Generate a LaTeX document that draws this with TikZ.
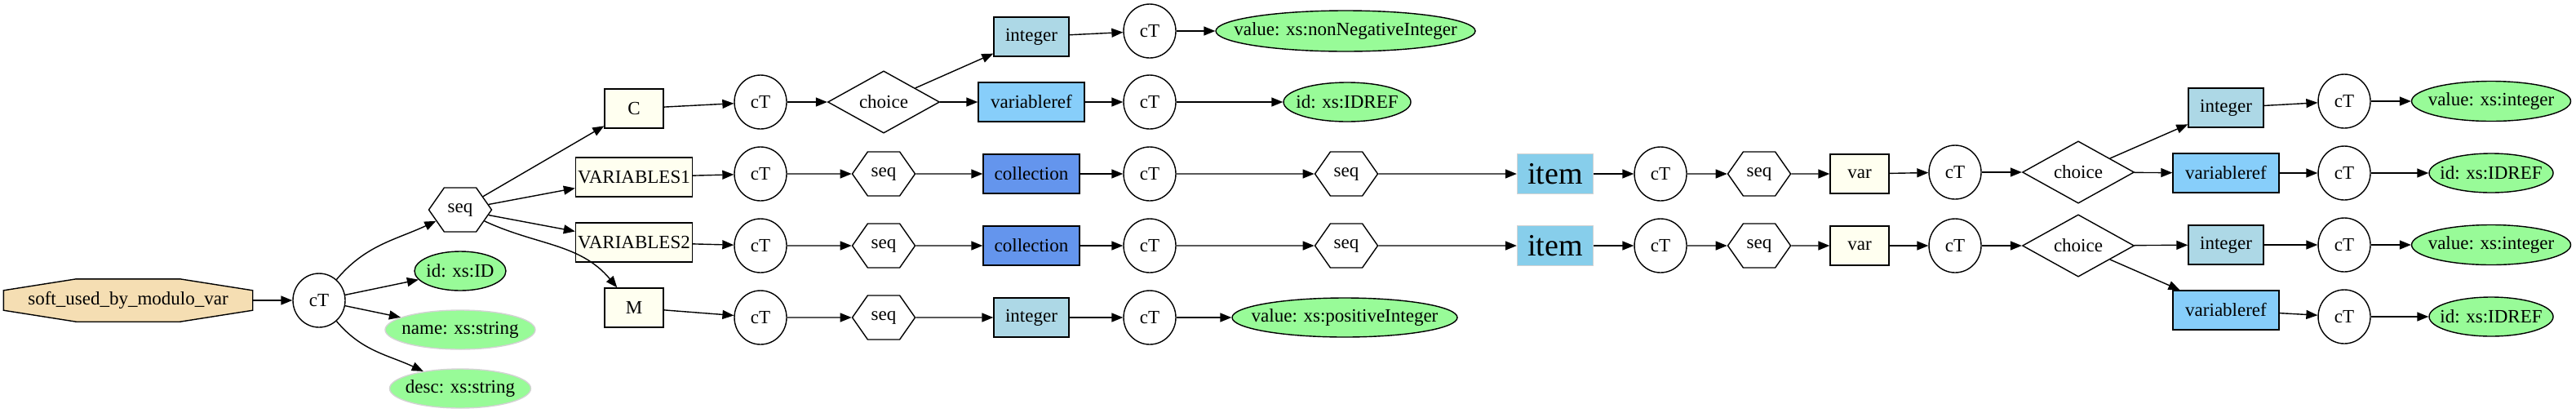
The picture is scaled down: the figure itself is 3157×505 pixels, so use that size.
\documentclass[tikz,border=0pt]{standalone}
\usepackage{fontspec}
\setmainfont{Liberation Serif}
\usetikzlibrary{shapes.geometric,shapes.symbols,arrows.meta,backgrounds}
\definecolor{wheat}{HTML}{F5DEB3}
\definecolor{ivoryc}{HTML}{FFFFF0}
\definecolor{lblue}{HTML}{ADD8E6}
\definecolor{lsky}{HTML}{87CEFA}
\definecolor{cfblue}{HTML}{6495ED}
\definecolor{skyc}{HTML}{87CEEB}
\definecolor{pgreen}{HTML}{98FB98}
\definecolor{lgrey}{HTML}{D3D3D3}
\newcommand{\zb}[1]{\makebox[0pt]{#1}}
\begin{document}
\begin{tikzpicture}[x=0.5pt,y=-0.5pt,
  every node/.style={font=\fontsize{11.5}{13}\selectfont, inner sep=0pt, line width=0.7pt},
  ct/.style={ellipse,draw,minimum width=32pt,minimum height=33pt},
  seqn/.style={signal,signal to=east and west,signal pointer angle=110,draw,minimum width=38.5pt,minimum height=27pt},
  chc/.style={diamond,draw,minimum width=68.5pt,minimum height=33.5pt},
  boxn/.style={rectangle,draw,minimum height=24pt},
  ivbox/.style={boxn,fill=ivoryc},
  intbox/.style={boxn,fill=lblue,minimum width=46pt},
  vrbox/.style={boxn,fill=lsky,minimum width=65pt},
  colbox/.style={boxn,fill=cfblue,minimum width=59pt},
  itembox/.style={rectangle,draw=lgrey,fill=skyc,minimum width=46.5pt,minimum height=24.5pt,font=\fontsize{19}{21}\selectfont},
  attr/.style={ellipse,draw,fill=pgreen,minimum height=24pt},
  attrg/.style={ellipse,draw=lgrey,fill=pgreen,minimum height=24pt},
  edge/.style={-{Triangle[length=7pt,width=5.5pt]},line width=0.7pt}
]
\useasboundingbox (0,0) rectangle (3157,505);

% left part
\node[rectangle,minimum width=152pt,minimum height=25.5pt] (root) at (157,368) {soft\_used\_by\_modulo\_var};
\begin{scope}[on background layer]
\draw[line width=0.7pt,fill=wheat]
  ([xshift=44.5pt]root.north west) -- ([xshift=-44.5pt]root.north east) --
  ([yshift=-7pt]root.north east) -- ([yshift=7pt]root.south east) --
  ([xshift=-44.5pt]root.south east) -- ([xshift=44.5pt]root.south west) --
  ([yshift=7pt]root.south west) -- ([yshift=-7pt]root.north west) -- cycle;
\end{scope}
\node[ct] (ct0) at (391,368) {cT};
\node[seqn] (seq0) at (564,257) {seq};
\node[attr,minimum width=56pt] (idID) at (564,332) {\zb{id: xs:ID}};
\node[attrg,minimum width=92pt] (name) at (564,404) {\zb{name: xs:string}};
\node[attrg,minimum width=86.5pt] (desc) at (564,476) {\zb{desc: xs:string}};

% row C
\node[ivbox,minimum width=36pt] (C) at (777,133) {C};
\node[ct] (ctC) at (932,125) {cT};
\node[chc] (chB) at (1083,125) {choice};
\node[intbox] (intB) at (1264,45) {integer};
\node[ct] (ctB1) at (1409,38) {cT};
\node[attr,minimum width=159pt,minimum height=25pt] (valB) at (1649,38) {\zb{value: xs:nonNegativeInteger}};
\node[vrbox] (vrB) at (1264,125) {variableref};
\node[ct] (ctB2) at (1409,125) {cT};
\node[attr,minimum width=78pt] (idrB) at (1651,125) {\zb{id: xs:IDREF}};

% row VARIABLES1
\node[ivbox,minimum width=71.5pt] (V1) at (777,217) {VARIABLES1};
\node[ct] (ct1) at (932,213) {cT};
\node[seqn] (s1) at (1083,213) {seq};
\node[colbox] (col1) at (1264,213) {collection};
\node[ct] (ct1b) at (1409,213) {cT};
\node[seqn] (s1b) at (1650,213) {seq};
\node[itembox] (item1) at (1906,213) {item};
\node[ct] (ct1c) at (2035,213) {cT};
\node[seqn] (s1c) at (2156,213) {seq};
\node[ivbox,minimum width=36pt] (var1) at (2279,213) {var};
\node[ct] (ct1d) at (2396,211) {cT};
\node[chc] (ch1) at (2547,211) {choice};
\node[intbox] (int1) at (2728,132) {integer};
\node[ct] (ct1e) at (2873,124) {cT};
\node[attr,minimum width=97.5pt,minimum height=24.5pt] (val1) at (3053,124) {\zb{value: xs:integer}};
\node[vrbox] (vr1) at (2728,212) {variableref};
\node[ct] (ct1f) at (2873,212) {cT};
\node[attr,minimum width=76pt] (idr1) at (3053,212) {\zb{id: xs:IDREF}};

% row VARIABLES2
\node[ivbox,minimum width=71.5pt] (V2) at (777,297) {VARIABLES2};
\node[ct] (ct2) at (932,301) {cT};
\node[seqn] (s2) at (1083,301) {seq};
\node[colbox] (col2) at (1264,301) {collection};
\node[ct] (ct2b) at (1409,301) {cT};
\node[seqn] (s2b) at (1650,301) {seq};
\node[itembox] (item2) at (1906,301) {item};
\node[ct] (ct2c) at (2035,301) {cT};
\node[seqn] (s2c) at (2156,301) {seq};
\node[ivbox,minimum width=36pt] (var2) at (2279,301) {var};
\node[ct] (ct2d) at (2396,301) {cT};
\node[chc] (ch2) at (2547,301) {choice};
\node[intbox] (int2) at (2728,300) {integer};
\node[ct] (ct2e) at (2873,300) {cT};
\node[attr,minimum width=97.5pt,minimum height=24.5pt] (val2) at (3053,300) {\zb{value: xs:integer}};
\node[vrbox] (vr2) at (2728,380) {variableref};
\node[ct] (ct2f) at (2873,388) {cT};
\node[attr,minimum width=76pt] (idr2) at (3053,388) {\zb{id: xs:IDREF}};

% row M
\node[ivbox,minimum width=36pt] (M) at (777,377) {M};
\node[ct] (ctM) at (932,389) {cT};
\node[seqn] (sM) at (1083,389) {seq};
\node[intbox] (intM) at (1264,389) {integer};
\node[ct] (ctM2) at (1409,389) {cT};
\node[attr,minimum width=138pt] (valM) at (1648,389) {\zb{value: xs:positiveInteger}};

% edges
\draw[edge] (root) -- (ct0);
\draw[edge] (ct0) to[out=50,in=205] (seq0);
\draw[edge] (ct0) -- (idID);
\draw[edge] (ct0) -- (name);
\draw[edge] (ct0) to[out=-50,in=155] (desc);
\draw[edge] (seq0) -- (C);
\draw[edge] (seq0) -- (V1);
\draw[edge] (seq0) -- (V2);
\draw[edge] (seq0) to[out=-25,in=130] (M);

\draw[edge] (C) -- (ctC);
\draw[edge] (ctC) -- (chB);
\draw[edge] (chB) -- (intB);
\draw[edge] (chB) -- (vrB);
\draw[edge] (intB) -- (ctB1);
\draw[edge] (ctB1) -- (valB);
\draw[edge] (vrB) -- (ctB2);
\draw[edge] (ctB2) -- (idrB);

\draw[edge] (V1) -- (ct1);
\draw[edge] (ct1) -- (s1);
\draw[edge] (s1) -- (col1);
\draw[edge] (col1) -- (ct1b);
\draw[edge] (ct1b) -- (s1b);
\draw[edge] (s1b) -- (item1);
\draw[edge] (item1) -- (ct1c);
\draw[edge] (ct1c) -- (s1c);
\draw[edge] (s1c) -- (var1);
\draw[edge] (var1) -- (ct1d);
\draw[edge] (ct1d) -- (ch1);
\draw[edge] (ch1) -- (int1);
\draw[edge] (ch1) -- (vr1);
\draw[edge] (int1) -- (ct1e);
\draw[edge] (ct1e) -- (val1);
\draw[edge] (vr1) -- (ct1f);
\draw[edge] (ct1f) -- (idr1);

\draw[edge] (V2) -- (ct2);
\draw[edge] (ct2) -- (s2);
\draw[edge] (s2) -- (col2);
\draw[edge] (col2) -- (ct2b);
\draw[edge] (ct2b) -- (s2b);
\draw[edge] (s2b) -- (item2);
\draw[edge] (item2) -- (ct2c);
\draw[edge] (ct2c) -- (s2c);
\draw[edge] (s2c) -- (var2);
\draw[edge] (var2) -- (ct2d);
\draw[edge] (ct2d) -- (ch2);
\draw[edge] (ch2) -- (int2);
\draw[edge] (ch2) -- (vr2);
\draw[edge] (int2) -- (ct2e);
\draw[edge] (ct2e) -- (val2);
\draw[edge] (vr2) -- (ct2f);
\draw[edge] (ct2f) -- (idr2);

\draw[edge] (M) -- (ctM);
\draw[edge] (ctM) -- (sM);
\draw[edge] (sM) -- (intM);
\draw[edge] (intM) -- (ctM2);
\draw[edge] (ctM2) -- (valM);
\end{tikzpicture}
\end{document}
